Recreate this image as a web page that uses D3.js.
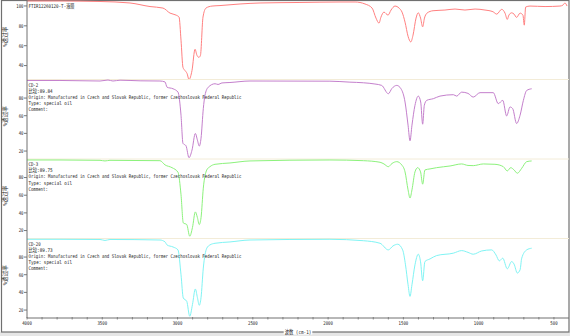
<!DOCTYPE html>
<html>
<head>
<meta charset="utf-8">
<script src="https://cdn.jsdelivr.net/npm/d3@7"></script>
<style>
	body { margin: 0; background: #fff; }
	svg { display: block; }
</style>
</head>
<body>
<svg id="chart" width="570" height="336"></svg>
<script>
// [wavenumber cm-1, %T]
const spectrumFTIR = [
	[4000, 105], [3781, 105], [3515, 104.5], [3316, 103], [3183, 99.4], [3097, 97.9], [3050, 92.8],
	[3010, 90.8], [2990, 88.8], [2977, 65.5], [2964, 38.2], [2951, 35.1], [2937, 32.1], [2924, 26],
	[2904, 35.1], [2884, 56.4], [2871, 50.3], [2858, 48.3], [2848, 50.3], [2831, 88.8], [2811, 97.9],
	[2771, 99.9], [2718, 100.4], [2585, 102], [2452, 103], [2187, 103.5], [1921, 104], [1821, 104],
	[1755, 102], [1708, 97.9], [1682, 87.8], [1662, 82.7], [1649, 88.8], [1629, 93.8], [1602, 90.8],
	[1582, 95.9], [1556, 99.9], [1529, 97.9], [1509, 93.8], [1489, 83.7], [1469, 69.5], [1451, 63.8],
	[1436, 70.6], [1416, 87.8], [1401, 93.1], [1386, 87.8], [1372, 79], [1360, 87.8], [1343, 92.8],
	[1303, 95.2], [1224, 95.9], [1157, 96.9], [1091, 95.9], [1024, 96.9], [958, 95.9], [905, 94.2],
	[880, 91.8], [847, 96.6], [825, 92.8], [810, 86.5], [799, 90.8], [781, 93.1], [765, 91.8],
	[748, 88.5], [725, 92.8], [706, 90.8], [697, 80.7], [688, 98.9], [659, 99.9], [559, 99.4],
	[460, 99.9], [440, 100.9], [427, 103], [413, 99.9]
];
const spectrumCD2 = [
	[4000, 99.9], [3781, 99.9], [3515, 99.3], [3462, 100.4], [3429, 99.3], [3382, 100.2], [3249, 99.5],
	[3117, 99.3], [3083, 98.2], [3070, 92.3], [3030, 90.5], [2997, 86.7], [2977, 60.5], [2964, 28.7],
	[2944, 26], [2924, 12.5], [2904, 21.1], [2882, 39.9], [2868, 32.4], [2856, 25.6], [2844, 34.6],
	[2829, 68], [2818, 83], [2796, 92.3], [2751, 96.2], [2731, 95.4], [2705, 97.1], [2652, 97.6],
	[2519, 99.3], [1988, 99.1], [1855, 98], [1766, 97.3], [1689, 95.9], [1644, 94.3], [1600, 84.9],
	[1576, 90.9], [1544, 94.3], [1516, 90.5], [1489, 75.5], [1469, 49.3], [1456, 31.6], [1443, 49.3],
	[1423, 71.8], [1401, 82.2], [1385, 75.5], [1372, 50.4], [1361, 71.8], [1345, 77.4], [1301, 79.3],
	[1257, 82.2], [1168, 83.8], [1146, 82.2], [1113, 86.7], [1071, 85.3], [1036, 81.1], [991, 86.1],
	[903, 86.1], [870, 73.7], [840, 77.4], [814, 59.7], [792, 69.9], [774, 68], [748, 51.2],
	[725, 60.5], [703, 77.4], [681, 88.6], [648, 90.5]
];
const spectrumCD3 = [
	[4000, 99.9], [3781, 99.9], [3515, 99.5], [3482, 98.8], [3449, 99.5], [3117, 99.1], [3083, 94.3],
	[3037, 91.2], [2997, 86], [2977, 60.5], [2962, 28.7], [2939, 26.8], [2919, 13.6], [2901, 23.4],
	[2882, 41.1], [2868, 34.6], [2856, 26.8], [2844, 34.6], [2829, 68], [2806, 88.6], [2785, 92.3],
	[2751, 95], [2652, 96.5], [2519, 98.8], [1988, 99.9], [1766, 99.1], [1655, 97.3], [1629, 95.4],
	[1600, 92.3], [1576, 95.9], [1544, 98], [1511, 94.3], [1489, 86.4], [1469, 66.1], [1456, 56.8],
	[1443, 66.1], [1423, 86.4], [1405, 91.2], [1386, 86.4], [1372, 72.5], [1357, 88.6], [1323, 89.8],
	[1279, 91.2], [1190, 93.1], [1113, 95.4], [1071, 93.7], [1036, 93.5], [969, 95.4], [892, 95],
	[836, 92.3], [810, 87.5], [787, 91.2], [765, 88.6], [743, 84.9], [714, 90.5], [681, 98], [648, 98.8]
];
const spectrumCD20 = [
	[4000, 100.1], [3781, 100.1], [3515, 99.9], [3482, 98.8], [3449, 99.9], [3117, 99.3], [3083, 97.1],
	[3070, 93.7], [3030, 91.4], [2997, 88.1], [2977, 59.9], [2962, 33.7], [2939, 29.9], [2919, 13],
	[2901, 26.2], [2882, 43.8], [2868, 34.1], [2856, 25.4], [2844, 34.1], [2829, 67.5], [2806, 90],
	[2785, 93.7], [2751, 95.6], [2652, 97.1], [2519, 99.3], [1988, 100.1], [1766, 98.5], [1655, 95.6],
	[1600, 88.1], [1569, 92.6], [1538, 94.5], [1505, 88.1], [1486, 71.2], [1469, 48.7], [1456, 35.5],
	[1443, 48.7], [1423, 71.2], [1401, 83.2], [1386, 74.6], [1372, 53.2], [1357, 74.9], [1323, 77.9],
	[1279, 81.7], [1168, 84.4], [1113, 87.3], [1071, 85.3], [1036, 83.2], [980, 86.9], [914, 88.1],
	[885, 82.4], [863, 75.7], [840, 78.7], [810, 66.7], [781, 74.9], [765, 72], [743, 61.9],
	[725, 65.6], [714, 78.7], [681, 88.1], [648, 90]
];

const panelNames = ['FTIR12260120-T-液膜', 'CD-2', 'CD-3', 'CD-20'];
const panelScores = [null, '89.84', '89.75', '89.73'];
const panelColors = ['#ff8080', '#c47fcc', '#8cf27c', '#80f4f4'];
const panelDomains = [[26, 106], [11, 101], [11, 101], [11, 101]];
const panelTicks = [[100, 80, 60, 40], [80, 60, 40, 20], [80, 60, 40, 20], [80, 60, 40, 20]];
const wavenumberTicks = [4000, 3500, 3000, 2500, 2000, 1500, 1000, 500];
const wavenumberMinorTicks = d3.range(4000, 400, -100);
const originText = 'Origin:  Manufactured in Czech and Slovak Republic, former Czechoslovak Federal Republic';
const typeText = 'Type:  special oil';
const commentText = 'Comment:';

const SpectrumChart = {
	left: 27,
	right: 569,
	top: 0,
	bottom: 318,
	charWidth: 2.42,
	font: "'DejaVu Sans Mono', 'Noto Sans CJK SC', monospace",

	draw: function() {
		const self = this;
		let svg = d3.select('#chart');
		let spectra = [ spectrumFTIR, spectrumCD2, spectrumCD3, spectrumCD20 ];
		let panelHeight = (self.bottom - self.top) / spectra.length;
		let x = d3.scaleLinear()
			.domain([ 4000, 400 ])
			.range([ self.left, self.right ]);

		self.drawFrame(svg);

		for (let i = 0; i < spectra.length; i++) {
			let panelTop = self.top + i * panelHeight;
			let y = d3.scaleLinear()
				.domain(panelDomains[i])
				.range([ panelTop + panelHeight, panelTop ]);

			self.drawPanel(svg, i, x, y, panelTop, panelHeight, spectra[i]);
		}

		self.drawXAxis(svg, x);
	},

	// helpers

	textWidth: function(str) {
		let units = 0;

		for (let i = 0; i < str.length; i++)
			units += str.charCodeAt(i) > 255 ? 2 : 1;

		return units * this.charWidth;
	},
	smallText: function(g, str, x, y, anchor) {
		return g.append('text')
			.attr('x', x)
			.attr('y', y)
			.attr('text-anchor', anchor || 'start')
			.attr('textLength', this.textWidth(str))
			.attr('lengthAdjust', 'spacingAndGlyphs')
			.style('font-family', this.font)
			.style('font-size', '5.2px')
			.style('fill', '#222')
			.text(str);
	},

	// draw

	drawFrame: function(svg) {
		svg.append('rect')
			.attr('x', 0).attr('y', 332)
			.attr('width', 570).attr('height', 4)
			.style('fill', '#e6e6e6');

		svg.append('rect')
			.attr('x', 1.5).attr('y', 0.5)
			.attr('width', 567.5).attr('height', 331.5)
			.style('fill', 'none')
			.style('stroke', '#707070')
			.style('stroke-width', 1.2);
	},
	drawPanel: function(svg, index, x, y, panelTop, panelHeight, data) {
		const self = this;
		let g = svg.append('g');

		// faint panel top line
		if (index > 0)
			g.append('line')
				.attr('x1', self.left).attr('x2', self.right)
				.attr('y1', panelTop).attr('y2', panelTop)
				.style('stroke', '#f3ecd8')
				.style('stroke-width', 1);

		let line = d3.line()
			.x(d => x(d[0]))
			.y(d => y(d[1]))
			.curve(d3.curveMonotoneX);

		g.append('path')
			.datum(data)
			.attr('d', line)
			.style('fill', 'none')
			.style('stroke', panelColors[index])
			.style('stroke-width', 1);

		// y ticks
		let ticks = panelTicks[index];

		for (let i = 0; i < ticks.length; i++) {
			let ty = y(ticks[i]);

			g.append('line')
				.attr('x1', self.left - 3).attr('x2', self.left)
				.attr('y1', ty).attr('y2', ty)
				.style('stroke', '#555')
				.style('stroke-width', 0.8);

			self.smallText(g, String(ticks[i]), self.left - 3.5, ty + 1.8, 'end');
		}

		// y title
		let titleY = panelTop + panelHeight / 2 - 3;
		let title = '%透过率';

		g.append('text')
			.attr('transform', 'translate(7,' + titleY + ') rotate(-90)')
			.attr('text-anchor', 'middle')
			.attr('textLength', 20)
			.attr('lengthAdjust', 'spacingAndGlyphs')
			.style('font-family', self.font)
			.style('font-size', '5.5px')
			.style('fill', '#222')
			.text(title);

		// info lines
		let textX = self.left + 1.5;

		if (index == 0) {
			self.smallText(g, panelNames[index], textX, panelTop + 7.6);
			return;
		}

		let lines = [
			panelNames[index],
			'比较:' + panelScores[index],
			originText,
			typeText,
			commentText
		];

		for (let i = 0; i < lines.length; i++)
			self.smallText(g, lines[i], textX, panelTop + 7 + i * 6.2);
	},
	drawXAxis: function(svg, x) {
		const self = this;
		let g = svg.append('g');

		g.append('line')
			.attr('x1', self.left).attr('x2', self.left)
			.attr('y1', self.top).attr('y2', self.bottom)
			.style('stroke', '#707070')
			.style('stroke-width', 1);

		g.append('line')
			.attr('x1', self.left).attr('x2', self.right)
			.attr('y1', self.bottom).attr('y2', self.bottom)
			.style('stroke', '#707070')
			.style('stroke-width', 1);

		g.selectAll('.minor')
			.data(wavenumberMinorTicks)
			.enter()
			.append('line')
			.attr('x1', d => x(d)).attr('x2', d => x(d))
			.attr('y1', self.bottom - 1).attr('y2', self.bottom + 1.5)
			.style('stroke', '#707070')
			.style('stroke-width', 0.8);

		for (let i = 0; i < wavenumberTicks.length; i++)
			self.smallText(g, String(wavenumberTicks[i]), x(wavenumberTicks[i]), self.bottom + 7, 'middle');

		let axisTitle = '波数 (cm-1)';
		let w = self.textWidth(axisTitle);
		let cx = (self.left + self.right) / 2;

		g.append('rect')
			.attr('x', cx - w / 2 - 1).attr('y', 327.5)
			.attr('width', w + 2).attr('height', 7)
			.style('fill', '#fff');

		self.smallText(g, axisTitle, cx, 333.5, 'middle');
	}
};

SpectrumChart.draw();
</script>
</body>
</html>
